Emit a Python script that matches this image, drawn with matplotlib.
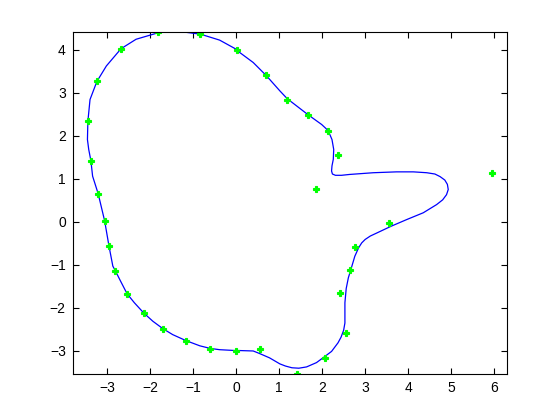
import numpy as np
import matplotlib
matplotlib.use('Agg')
import matplotlib.pyplot as plt

# sampled points (green)
pts_x = [-1.81, -2.67, -3.23, -3.44, -3.37, -3.20, -3.05, -2.95, -2.80, -2.53,
         -2.14, -1.70, -1.16, -0.60, -0.01, 0.55, 1.42, 2.07, 2.55, 2.41,
         2.65, 2.77, 3.56, 5.95, 1.86, 2.37, 2.14, 1.67, 1.19, 0.70,
         0.02, -0.83]
pts_y = [4.41, 4.02, 3.26, 2.33, 1.42, 0.65, 0.02, -0.56, -1.14, -1.67,
         -2.12, -2.49, -2.77, -2.95, -3.00, -2.95, -3.53, -3.16, -2.58, -1.65,
         -1.12, -0.58, -0.02, 1.14, 0.77, 1.56, 2.12, 2.49, 2.84, 3.40,
         4.00, 4.36]

# fitted closed curve (blue)
curve_x = [-1.81, -1.60, -1.45, -1.30, -1.00, -0.83, -0.38, 0.02, 0.09, 0.40,
           0.70, 1.02, 1.19, 1.67, 1.99, 2.14, 2.23, 2.27, 2.26, 2.23,
           2.22, 2.24, 2.31, 2.45, 2.64, 3.19, 3.73, 4.12, 4.43, 4.62, 4.74,
           4.85, 4.91, 4.93, 4.89, 4.80, 4.66, 4.35, 3.96, 3.61, 3.27, 3.12,
           3.00, 2.92, 2.85, 2.76, 2.68,
           2.61, 2.56, 2.53, 2.53, 2.50, 2.44, 2.37, 2.22, 2.02, 1.87, 1.64,
           1.46, 1.30, 1.15, 1.02, 0.78, 0.55, 0.40, 0.09, -0.01, -0.38, -0.60,
           -0.84, -1.16, -1.47, -1.70, -1.93, -2.14, -2.36, -2.53, -2.70, -2.80,
           -2.86, -2.95, -3.05, -3.20, -3.33, -3.37, -3.42, -3.45, -3.44, -3.39,
           -3.23, -3.01, -2.67, -2.32, -1.81]
curve_y = [4.39, 4.42, 4.45, 4.42, 4.38, 4.36, 4.22, 4.00, 3.93, 3.70,
           3.40, 3.04, 2.86, 2.49, 2.26, 2.12, 1.91, 1.68, 1.45, 1.30,
           1.18, 1.11, 1.08, 1.08, 1.10, 1.14, 1.16, 1.16, 1.14, 1.11, 1.05,
           0.97, 0.87, 0.75, 0.63, 0.51, 0.40, 0.21, 0.05, -0.10, -0.26, -0.33,
           -0.41, -0.49, -0.60, -0.80, -1.07,
           -1.30, -1.55, -1.88, -2.35, -2.52, -2.68, -2.81, -3.01, -3.16, -3.27, -3.37,
           -3.40, -3.39, -3.35, -3.30, -3.16, -3.06, -3.00, -2.99, -2.99, -2.97, -2.94,
           -2.88, -2.76, -2.62, -2.48, -2.31, -2.12, -1.88, -1.67, -1.34, -1.14,
           -1.03, -0.56, 0.02, 0.65, 1.06, 1.42, 1.68, 1.91, 2.33, 2.84,
           3.26, 3.62, 4.02, 4.24, 4.39]

plt.rcParams['font.family'] = ['Liberation Sans', 'DejaVu Sans']

fig = plt.figure(figsize=(5.6, 4.2), dpi=100)
ax = fig.add_axes([0.13, 0.11, 0.775, 0.815])

ax.plot(curve_x, curve_y, color='#0000ff', lw=0.9)
ax.plot(pts_x, pts_y, 'P', color='#00ff00', ms=3.8, mew=0.8, mec='#00ff00')

ax.set_xlim(-3.79, 6.29)
ax.set_ylim(-3.53, 4.42)
ax.set_xticks(range(-3, 7))
ax.set_yticks(range(-3, 5))
ax.tick_params(direction='in', top=True, right=True, length=4, width=0.8,
               labelsize=10, pad=5)
for s in ax.spines.values():
    s.set_linewidth(0.8)

fig.savefig('out.png', dpi=100)
